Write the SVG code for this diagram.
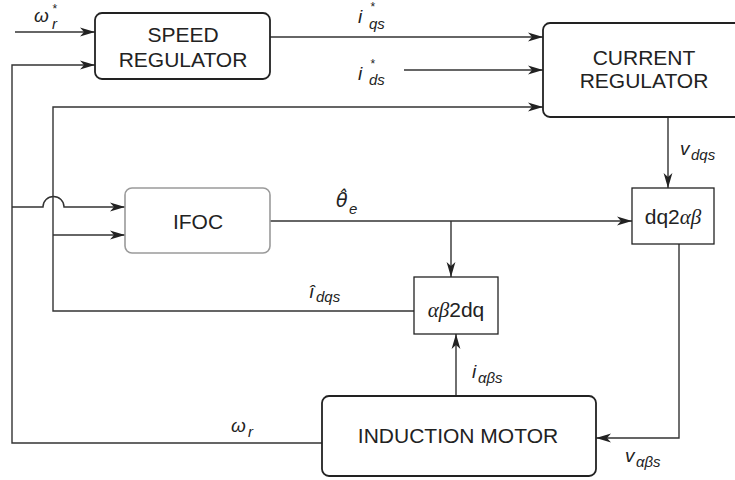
<svg xmlns="http://www.w3.org/2000/svg" width="735" height="480" viewBox="0 0 735 480">
<style>
.box{fill:#fff;stroke:#222;stroke-width:1.8}
.sq{fill:#fff;stroke:#222;stroke-width:1.3}
.gray{fill:#fff;stroke:#9a9a9a;stroke-width:1.6}
.ln{fill:none;stroke:#333;stroke-width:1.4}
.t{font-family:"Liberation Sans",Arial,sans-serif;font-size:21px;fill:#222;text-anchor:middle}
.lb{font-family:"Liberation Sans",Arial,sans-serif;font-style:italic;font-size:19px;fill:#222}
.sub{font-size:15px}
.sup{font-size:12px}
.gk{font-family:"Liberation Serif","Times New Roman",serif;font-style:italic}
.dj{font-family:"DejaVu Sans",sans-serif}
</style>
<defs>
<marker id="ar" markerUnits="userSpaceOnUse" markerWidth="17" markerHeight="12" refX="16" refY="6" orient="auto" viewBox="0 0 17 12">
<path d="M16,6 L1,1.6 L5,6 L1,10.4 Z" fill="#222"/>
</marker>
</defs>
<g id="connectors">
<path class="ln" d="M15,32 H95" marker-end="url(#ar)"/>
<path class="ln" d="M322,443 H12 V65 H95" marker-end="url(#ar)"/>
<path class="ln" d="M270,37 H543" marker-end="url(#ar)"/>
<path class="ln" d="M404,70 H543" marker-end="url(#ar)"/>
<path class="ln" d="M414,311 H53 V107 H543" marker-end="url(#ar)"/>
<path class="ln" d="M53,235 H125" marker-end="url(#ar)"/>
<path class="ln" d="M12,207 H43 A10.5 10.5 0 0 1 64 207 H125" marker-end="url(#ar)"/>
<path class="ln" d="M270,221 H632" marker-end="url(#ar)"/>
<path class="ln" d="M451,221 V277" marker-end="url(#ar)"/>
<path class="ln" d="M668,117 V188" marker-end="url(#ar)"/>
<path class="ln" d="M679,244 V438 H596" marker-end="url(#ar)"/>
<path class="ln" d="M456,396 V334" marker-end="url(#ar)"/>
</g>
<g id="speed_regulator">
<rect class="box" x="95" y="13" width="175" height="66" rx="7"/>
<text class="t" x="183" y="42">SPEED</text>
<text class="t" x="183" y="67">REGULATOR</text>
</g>
<g id="current_regulator">
<rect class="box" x="543" y="23" width="215" height="94" rx="7"/>
<text class="t" x="644" y="65">CURRENT</text>
<text class="t" x="644" y="88">REGULATOR</text>
</g>
<g id="ifoc">
<rect class="gray" x="125" y="188" width="145" height="65" rx="7"/>
<text class="t" x="198" y="229">IFOC</text>
</g>
<g id="dq2ab">
<rect class="sq" x="632" y="188" width="82" height="56"/>
<text class="t" x="673" y="224">dq2<tspan class="gk">αβ</tspan></text>
</g>
<g id="ab2dq">
<rect class="sq" x="414" y="277" width="84" height="57"/>
<text class="t" x="456" y="317"><tspan class="gk">αβ</tspan>2dq</text>
</g>
<g id="induction_motor">
<rect class="box" x="322" y="396" width="274" height="80" rx="7"/>
<text class="t" x="458" y="443">INDUCTION MOTOR</text>
</g>
<g id="labels">
<text class="lb" x="34" y="22">ω<tspan class="sub" x="52" y="29">r</tspan></text>
<text class="lb sup" x="52" y="13">*</text>
<text class="lb" x="358" y="23">i<tspan class="sub" x="369" y="29">qs</tspan></text>
<text class="lb sup" x="370" y="11">*</text>
<text class="lb" x="358" y="80">i<tspan class="sub" x="369" y="85">ds</tspan></text>
<text class="lb sup" x="370" y="68">*</text>
<text class="lb" x="336" y="207"><tspan class="dj">θ̂</tspan><tspan class="sub" x="349" y="214">e</tspan></text>
<text class="lb" x="309" y="298">î<tspan class="sub" x="316" y="302">dqs</tspan></text>
<text class="lb" x="231" y="432">ω<tspan class="sub" x="248" y="437">r</tspan></text>
<text class="lb" x="472" y="378">i<tspan class="sub" x="478" y="383">αβs</tspan></text>
<text class="lb" x="680" y="155">v<tspan class="sub" x="691" y="160">dqs</tspan></text>
<text class="lb" x="625" y="462">v<tspan class="sub" x="636" y="467">αβs</tspan></text>
</g>
</svg>
